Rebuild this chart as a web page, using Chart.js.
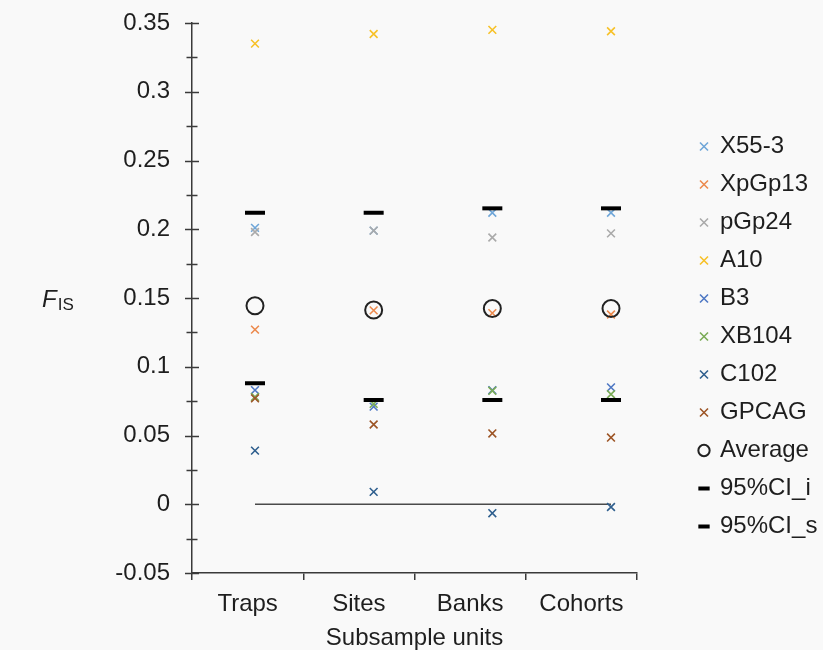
<!DOCTYPE html>
<html>
<head>
<meta charset="utf-8">
<script src="https://cdn.jsdelivr.net/npm/chart.js@4/dist/chart.umd.min.js"></script>
<style>
  html, body { margin: 0; padding: 0; background: #f9f9f9; }
  #wrap { width: 823px; height: 650px; position: relative; }
</style>
</head>
<body>
<div id="wrap"><canvas id="c" width="823" height="650"></canvas></div>
<script>
// ---- data ----
const categories = ['Traps', 'Sites', 'Banks', 'Cohorts'];
const X55_3   = [0.201, 0.199, 0.212, 0.212];
const XpGp13  = [0.127, 0.141, 0.139, 0.138];
const pGp24   = [0.198, 0.199, 0.194, 0.197];
const A10     = [0.335, 0.342, 0.345, 0.344];
const B3      = [0.083, 0.071, 0.083, 0.085];
const XB104   = [0.078, 0.073, 0.0825, 0.080];
const C102    = [0.039, 0.009, -0.0065, -0.002];
const GPCAG   = [0.077, 0.058, 0.0515, 0.0485];
const average = [0.1444, 0.1413, 0.1424, 0.1424];
const ci_i    = [0.088, 0.0758, 0.0758, 0.0758];
const ci_s    = [0.212, 0.212, 0.2152, 0.2152];
const zeroLine = [0, 0, 0, 0];
const yTickMin = -0.05, yTickMax = 0.35, yMinorStep = 0.025;

const FONT = "'Liberation Sans', Arial, sans-serif";
const TXT = '#1e1e1e';
const AX = '#3a3a3a';

const toPts = arr => arr.map((v, i) => ({ x: i + 1, y: v }));

const series = [
  { label: 'X55-3',  data: X55_3,  color: '#6fa6d8' },
  { label: 'XpGp13', data: XpGp13, color: '#ec8a4e' },
  { label: 'pGp24',  data: pGp24,  color: '#aaaaaa' },
  { label: 'A10',    data: A10,    color: '#f7c127' },
  { label: 'B3',     data: B3,     color: '#4f78c4' },
  { label: 'XB104',  data: XB104,  color: '#7aab56' },
  { label: 'C102',   data: C102,   color: '#2f5f8e' },
  { label: 'GPCAG',  data: GPCAG,  color: '#9d5526' },
];

const datasets = series.map(s => ({
  label: s.label,
  data: toPts(s.data),
  pointStyle: 'crossRot',
  pointRadius: 5.5,
  borderColor: s.color,
  backgroundColor: s.color,
  pointBorderWidth: 1.6,
  showLine: false,
}));
datasets.push({
  label: 'Average', data: toPts(average), pointStyle: 'circle', pointRadius: 8.5,
  borderColor: '#222', backgroundColor: 'rgba(0,0,0,0)', pointBorderWidth: 2, showLine: false,
});
datasets.push({
  label: '95%CI_i', data: toPts(ci_i), pointStyle: 'line', pointRadius: 10,
  borderColor: '#000', backgroundColor: '#000', pointBorderWidth: 4, showLine: false,
});
datasets.push({
  label: '95%CI_s', data: toPts(ci_s), pointStyle: 'line', pointRadius: 10,
  borderColor: '#000', backgroundColor: '#000', pointBorderWidth: 4, showLine: false,
});
datasets.push({
  label: '__zero', type: 'line', data: toPts(zeroLine), showLine: true, pointRadius: 0,
  borderColor: '#4a4a4a', borderWidth: 1.5, fill: false,
});
// later datasets drawn on top
datasets.forEach((d, i) => { d.order = datasets.length - i; if (d.label === '__zero') d.order = 100; });

const PLOT_LEFT = 192, PLOT_RIGHT = 637, PLOT_TOP = 23, PLOT_BOTTOM = 573;
const LEGEND_ITEM_X = 700;

// crossing tick marks on the y axis
const yCrossTicks = {
  id: 'yCrossTicks',
  afterDraw(chart) {
    const s = chart.scales.y, ctx = chart.ctx;
    ctx.save();
    ctx.strokeStyle = AX; ctx.lineWidth = 1.5;
    s.ticks.forEach(t => {
      const y = Math.round(s.getPixelForValue(t.value)) + 0.5;
      const major = Math.round(t.value * 1000) % 50 === 0;
      const h = major ? 7 : 5.5;
      ctx.beginPath(); ctx.moveTo(s.right - h, y); ctx.lineTo(s.right + h, y); ctx.stroke();
    });
    ctx.restore();
  }
};

// Y title F_IS
const yTitle = {
  id: 'yTitle',
  afterDraw(chart) {
    const s = chart.scales.y, ctx = chart.ctx;
    const yc = (s.top + s.bottom) / 2;
    ctx.save();
    ctx.fillStyle = TXT;
    ctx.textBaseline = 'alphabetic';
    ctx.font = "italic 24px " + FONT;
    ctx.fillText('F', 42, yc + 9);
    const w = ctx.measureText('F').width;
    ctx.font = "17px " + FONT;
    ctx.fillText('IS', 42 + w + 1, yc + 12);
    ctx.restore();
  }
};

// legend box sizing / placement
const legendPlace = {
  id: 'legendPlace',
  beforeLayout(chart) {
    const lg = chart.legend;
    if (lg && !lg.__patched) {
      const orig = lg.fit;
      lg.fit = function () { orig.call(this); this.width = 823 - PLOT_RIGHT; };
      lg.__patched = true;
    }
  },
  afterLayout(chart) {
    const lg = chart.legend;
    if (!lg) return;
    const pad = lg.options.labels.padding;
    lg.left = LEGEND_ITEM_X - pad;
    lg.right = 823;
  }
};

new Chart(document.getElementById('c'), {
  type: 'scatter',
  data: { labels: categories, datasets },
  plugins: [yCrossTicks, yTitle, legendPlace],
  options: {
    responsive: false,
    animation: false,
    layout: { padding: { top: PLOT_TOP, left: 0, right: 0, bottom: 0 } },
    plugins: {
      tooltip: { enabled: false },
      legend: {
        position: 'right',
        align: 'center',
        labels: {
          usePointStyle: true,
          boxWidth: 8, boxHeight: 8,
          padding: 14,
          color: TXT,
          font: { family: FONT, size: 24 },
          filter: item => item.text !== '__zero',
          sort: (a, b) => a.datasetIndex - b.datasetIndex,
        }
      }
    },
    scales: {
      xv: {
        type: 'linear', display: false, position: 'bottom',
        min: 1 - (255 - PLOT_LEFT) / 118.67,
        max: 4 + (PLOT_RIGHT - 611) / 118.67,
      },
      x: {
        type: 'category', position: 'bottom', offset: true,
        grid: { offset: true, drawOnChartArea: false, drawTicks: true, tickLength: 7, color: AX, lineWidth: 1.5 },
        border: { display: true, color: AX, width: 1.5 },
        ticks: { color: TXT, font: { family: FONT, size: 24 }, padding: 10, maxRotation: 0 },
        title: { display: true, text: 'Subsample units', color: TXT, font: { family: FONT, size: 24, lineHeight: 1.0 }, padding: { top: 0, bottom: 0 } },
        afterFit(s) { s.height = 650 - PLOT_BOTTOM; },
      },
      y: {
        type: 'linear', min: yTickMin, max: yTickMax,
        grid: { drawOnChartArea: false, drawTicks: true, tickLength: 20, tickColor: 'rgba(0,0,0,0)' },
        border: { display: true, color: AX, width: 1.5 },
        ticks: {
          stepSize: yMinorStep, color: TXT, font: { family: FONT, size: 24 }, padding: 2,
          callback: v => (Math.round(v * 1000) % 50 === 0) ? String(Math.round(v * 100) / 100) : '',
        },
        afterFit(s) { s.width = PLOT_LEFT; },
      }
    }
  }
});
</script>
</body>
</html>
